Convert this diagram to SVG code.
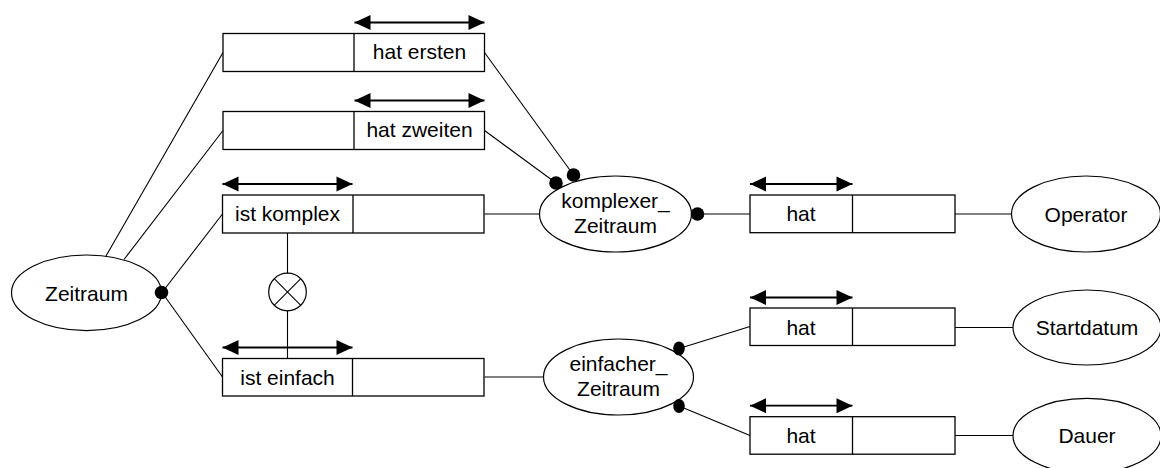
<svg xmlns="http://www.w3.org/2000/svg" width="1160" height="468" viewBox="0 0 1160 468">
  <style>
    .box { fill: #ffffff; stroke: #000000; stroke-width: 1.3; }
    .ent { fill: #ffffff; stroke: #000000; stroke-width: 1.2; }
    .lbl { font-family: "Liberation Sans", Arial, sans-serif; font-size: 21px; fill: #000000; text-anchor: middle; }
    .con { stroke: #000000; stroke-width: 1.1; fill: none; }
    .dir { stroke: #000000; stroke-width: 1.8; fill: none; marker-start: url(#head); marker-end: url(#head); }
    .dot { fill: #000000; }
  </style>
  <defs>
    <marker id="head" markerUnits="userSpaceOnUse" markerWidth="18" markerHeight="18" refX="16" refY="8" orient="auto-start-reverse" viewBox="0 0 18 18" overflow="visible">
      <path d="M0,0.5 L16,8 L0,15.5 Z" fill="#000000"/>
    </marker>
  </defs>
  <rect width="1160" height="468" fill="#ffffff"/>

  <!-- connector lines -->
  <g id="connectors">
    <line class="con" x1="106" y1="256" x2="223" y2="52.5"/>
    <line class="con" x1="124" y1="259.5" x2="223" y2="130.5"/>
    <line class="con" x1="162" y1="292.5" x2="222.5" y2="214"/>
    <line class="con" x1="162" y1="292.5" x2="222.5" y2="377"/>
    <line class="con" x1="287.5" y1="233" x2="287.5" y2="358.5"/>
    <line class="con" x1="484.5" y1="52.5" x2="573.5" y2="175"/>
    <line class="con" x1="484.5" y1="130.5" x2="556" y2="183"/>
    <line class="con" x1="484.5" y1="214" x2="539.5" y2="214"/>
    <line class="con" x1="484.5" y1="377" x2="543.5" y2="377"/>
    <line class="con" x1="697.5" y1="214" x2="750" y2="214"/>
    <line class="con" x1="679" y1="348.5" x2="750" y2="326.5"/>
    <line class="con" x1="679" y1="406" x2="750" y2="435.5"/>
    <line class="con" x1="955" y1="214" x2="1011.5" y2="214"/>
    <line class="con" x1="955" y1="327.5" x2="1013" y2="327.5"/>
    <line class="con" x1="955" y1="435.5" x2="1013" y2="435.5"/>
  </g>

  <!-- Zeitraum -->
  <g id="zeitraum">
    <ellipse class="ent" cx="86.5" cy="292.8" rx="75" ry="37.8"/>
    <text class="lbl" x="86.5" y="300.5">Zeitraum</text>
  </g>

  <!-- exclusive choice between ist komplex / ist einfach -->
  <g id="xor">
    <circle class="ent" cx="287.5" cy="292" r="18.8"/>
    <line class="con" x1="274.2" y1="278.7" x2="300.8" y2="305.3"/>
    <line class="con" x1="300.8" y1="278.7" x2="274.2" y2="305.3"/>
  </g>

  <!-- role boxes on the left -->
  <g id="hat-ersten">
    <rect class="box" x="223" y="33.5" width="261.5" height="38"/>
    <line class="box" x1="354" y1="33.5" x2="354" y2="71.5"/>
    <text class="lbl" x="419.5" y="59">hat ersten</text>
    <line class="dir" x1="354.5" y1="22.5" x2="484.5" y2="22.5"/>
  </g>
  <g id="hat-zweiten">
    <rect class="box" x="223" y="111.5" width="261.5" height="38"/>
    <line class="box" x1="354" y1="111.5" x2="354" y2="149.5"/>
    <text class="lbl" x="419.5" y="137">hat zweiten</text>
    <line class="dir" x1="354.5" y1="100.5" x2="484.5" y2="100.5"/>
  </g>
  <g id="ist-komplex">
    <rect class="box" x="222.5" y="195" width="261.5" height="38"/>
    <line class="box" x1="353" y1="195" x2="353" y2="233"/>
    <text class="lbl" x="287.5" y="221">ist komplex</text>
    <line class="dir" x1="222.5" y1="184" x2="352.5" y2="184"/>
  </g>
  <g id="ist-einfach">
    <rect class="box" x="222.5" y="358.5" width="261.5" height="37.5"/>
    <line class="box" x1="352.5" y1="358.5" x2="352.5" y2="396"/>
    <text class="lbl" x="287.5" y="384.5">ist einfach</text>
    <line class="dir" x1="222.5" y1="347.5" x2="352.5" y2="347.5"/>
  </g>

  <!-- komplexer_Zeitraum -->
  <g id="komplexer-zeitraum">
    <ellipse class="ent" cx="615.5" cy="214" rx="76" ry="38"/>
    <text class="lbl" x="615.5" y="208">komplexer_</text>
    <text class="lbl" x="615.5" y="233">Zeitraum</text>
  </g>

  <!-- einfacher_Zeitraum -->
  <g id="einfacher-zeitraum">
    <ellipse class="ent" cx="618.5" cy="377" rx="75" ry="38"/>
    <text class="lbl" x="618.5" y="371">einfacher_</text>
    <text class="lbl" x="618.5" y="396">Zeitraum</text>
  </g>

  <!-- role boxes on the right -->
  <g id="hat-operator">
    <rect class="box" x="750" y="195" width="205" height="37.7"/>
    <line class="box" x1="852.5" y1="195" x2="852.5" y2="232.7"/>
    <text class="lbl" x="801" y="221">hat</text>
    <line class="dir" x1="750" y1="184" x2="852.5" y2="184"/>
  </g>
  <g id="hat-startdatum">
    <rect class="box" x="750" y="308" width="205" height="37.5"/>
    <line class="box" x1="852.5" y1="308" x2="852.5" y2="345.5"/>
    <text class="lbl" x="801" y="334.5">hat</text>
    <line class="dir" x1="750" y1="297.5" x2="852.5" y2="297.5"/>
  </g>
  <g id="hat-dauer">
    <rect class="box" x="750" y="416.7" width="205" height="37.5"/>
    <line class="box" x1="852.5" y1="416.7" x2="852.5" y2="454.2"/>
    <text class="lbl" x="801" y="443">hat</text>
    <line class="dir" x1="750" y1="405.7" x2="852.5" y2="405.7"/>
  </g>

  <!-- value entities -->
  <g id="operator">
    <ellipse class="ent" cx="1086" cy="214" rx="74.5" ry="38"/>
    <text class="lbl" x="1086" y="221.5">Operator</text>
  </g>
  <g id="startdatum">
    <ellipse class="ent" cx="1087" cy="327.5" rx="74" ry="37.5"/>
    <text class="lbl" x="1087" y="335">Startdatum</text>
  </g>
  <g id="dauer">
    <ellipse class="ent" cx="1087" cy="435.8" rx="74" ry="37.5"/>
    <text class="lbl" x="1087" y="443.3">Dauer</text>
  </g>

  <!-- mandatory-role dots at connector ends, drawn over the ellipses -->
  <g id="connector-ends">
    <circle class="dot" cx="161.5" cy="292.5" r="6.8"/>
    <circle class="dot" cx="556" cy="183" r="6.8"/>
    <circle class="dot" cx="573.5" cy="175" r="6.8"/>
    <circle class="dot" cx="697.5" cy="214" r="6.8"/>
    <ellipse class="dot" cx="679" cy="348.5" rx="5.8" ry="7"/>
    <ellipse class="dot" cx="679" cy="406" rx="5.8" ry="7"/>
  </g>
</svg>
